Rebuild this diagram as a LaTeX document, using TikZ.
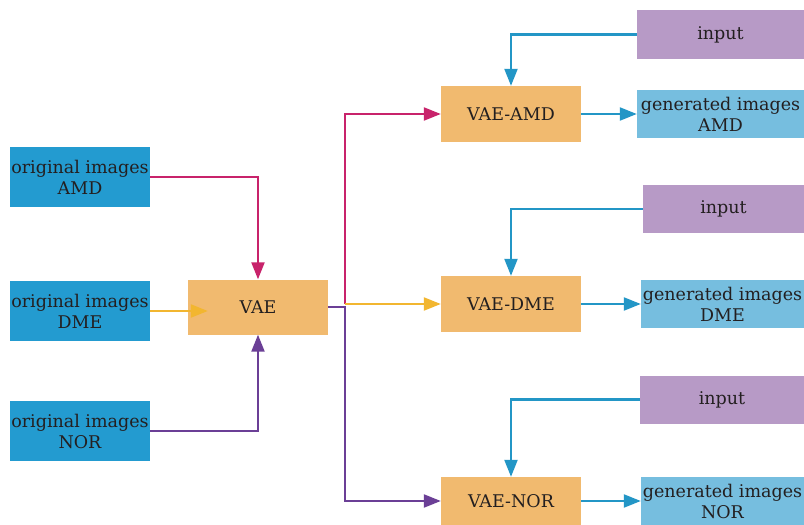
\documentclass[tikz,border=0pt]{standalone}
\usepackage{fontspec}
\setmainfont{DejaVu Serif}
\usepackage{tikz}
\usetikzlibrary{arrows.meta,calc}
\definecolor{seablue}{HTML}{239BD0}
\definecolor{skyblue}{HTML}{76BEDF}
\definecolor{apricot}{HTML}{F1BA6F}
\definecolor{lilac}{HTML}{B79AC6}
\definecolor{ink}{HTML}{231F20}
\definecolor{berry}{HTML}{C8236B}
\definecolor{amber}{HTML}{F2B630}
\definecolor{grape}{HTML}{6B3F96}
\definecolor{wire}{HTML}{2396C6}

\begin{document}
\begin{tikzpicture}[x=1pt,y=-1pt,font=\fontsize{17.5}{21}\selectfont,
  box/.style={align=center,inner sep=0pt,text=ink},
  origbox/.style={box,fill=seablue,minimum width=140pt,minimum height=60pt},
  vaebox/.style={box,fill=apricot,minimum width=140pt,minimum height=56pt},
  inputbox/.style={box,fill=lilac,minimum height=48pt},
  genbox/.style={box,fill=skyblue,minimum height=48pt},
  link/.style={line width=2.2pt,-{Triangle[length=17pt,width=13pt]}}]
  \fill[white] (0,0) rectangle (804,525);
  \useasboundingbox (0,0) rectangle (804,525);

  \node[origbox] (origamd) at (80,177) {original images\\AMD};
  \node[origbox] (origdme) at (80,311) {original images\\DME};
  \node[origbox] (orignor) at (80,431) {original images\\NOR};
  \node[vaebox,minimum height=55pt] (vae) at (258,307) {VAE};

  \node[vaebox] (vaeamd) at (511,114) {VAE-AMD};
  \node[vaebox] (vaedme) at (511,304) {VAE-DME};
  \node[vaebox,minimum height=48pt] (vaenor) at (511,501) {VAE-NOR};

  \node[inputbox,minimum width=167pt,minimum height=49pt] (inamd) at (720.5,34.5) {input};
  \node[inputbox,minimum width=161pt] (indme) at (723.5,209) {input};
  \node[inputbox,minimum width=164pt] (innor) at (722,399.5) {input};

  \node[genbox,minimum width=167pt] (genamd) at (720.5,114) {generated images\\AMD};
  \node[genbox,minimum width=163pt] (gendme) at (722.5,304) {generated images\\DME};
  \node[genbox,minimum width=163pt] (gennor) at (722.5,501) {generated images\\NOR};

  \coordinate (fork) at (345,304);

  \draw[link,berry] (origamd.east) -| (vae.north);
  \draw[link,amber] (origdme.east) -- ($(vae.west |- origdme.east)+(20,0)$);
  \draw[link,grape] (orignor.east) -| (vae.south);

  \draw[link,grape] (vae.east) -- (vae.east -| fork) |- (vaenor.west);
  \draw[link,berry] (fork) |- (vaeamd.west);
  \draw[link,amber] (fork) -- (vaedme.west);

  \draw[link,wire] (inamd.west) -| (vaeamd.north);
  \draw[link,wire] (indme.west) -| (vaedme.north);
  \draw[link,wire] (innor.west) -| (vaenor.north);
  \draw[link,wire] (vaeamd.east) -- (genamd.west);
  \draw[link,wire] (vaedme.east) -- (gendme.west);
  \draw[link,wire] (vaenor.east) -- (gennor.west);
\end{tikzpicture}
\end{document}
